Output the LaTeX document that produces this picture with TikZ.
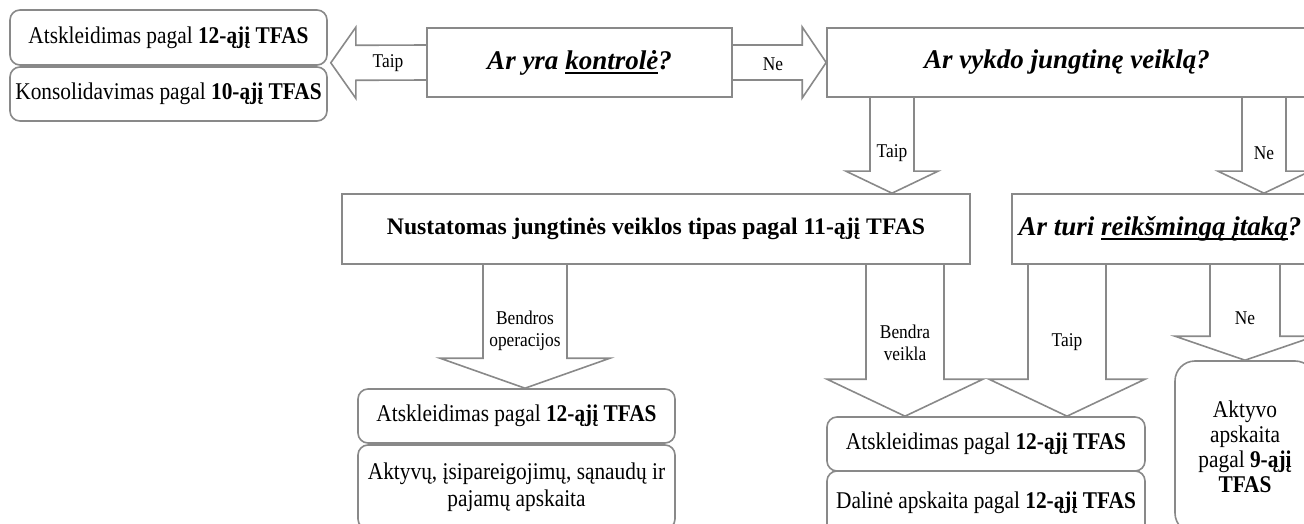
\documentclass[tikz,border=0pt]{standalone}
\usepackage{fontspec}
\setmainfont{Liberation Serif}
\newfontfamily\condserif[FakeStretch=0.89]{Liberation Serif}
\usetikzlibrary{calc}

\definecolor{edgegray}{RGB}{137,137,137}

% underline bar at a fixed depth below the baseline
\newcommand\ulbar[1]{\setbox0=\hbox{#1}\rlap{\rule[-4.5pt]{\wd0}{2pt}}\box0}
\newcommand\fs[2]{\fontsize{#1}{#2}\selectfont}

% block arrows: #1 start, #2 tip, #3 shaft half width, #4 head half width, #5 head length
\newcommand\downblock[5]{\draw[blockarrow] ($(#1)+(-#3,0)$) -- ($(#2)+(-#3,-#5)$) -- ($(#2)+(-#4,-#5)$) -- (#2) -- ($(#2)+(#4,-#5)$) -- ($(#2)+(#3,-#5)$) -- ($(#1)+(#3,0)$);}
\newcommand\rightblock[5]{\draw[blockarrow] ($(#1)+(0,-#3)$) -- ($(#2)+(-#5,-#3)$) -- ($(#2)+(-#5,-#4)$) -- (#2) -- ($(#2)+(-#5,#4)$) -- ($(#2)+(-#5,#3)$) -- ($(#1)+(0,#3)$);}
\newcommand\leftblock[5]{\draw[blockarrow] ($(#1)+(0,-#3)$) -- ($(#2)+(#5,-#3)$) -- ($(#2)+(#5,-#4)$) -- (#2) -- ($(#2)+(#5,#4)$) -- ($(#2)+(#5,#3)$) -- ($(#1)+(0,#3)$);}

\tikzset{
  box/.style={draw=edgegray, line width=1.6pt, inner sep=2pt, align=center, text=black},
  roundbox/.style={box, rounded corners=10pt},
  bodytext/.style={font=\condserif\fs{24}{26.5}},
  asktext/.style={font=\fs{27}{32}\bfseries\itshape},
  lbl/.style={font=\condserif\fs{19.5}{21.5}, align=center, inner sep=0pt},
  blockarrow/.style={draw=edgegray, line width=1.6pt, line join=miter},
}

\begin{document}
\begin{tikzpicture}[x=1pt, y=-1pt]
\useasboundingbox (0,0) rectangle (1304,524);
\clip (0,0) rectangle (1304,524);

% top row
\node[roundbox, bodytext, minimum width=317pt, minimum height=55pt] (tl1) at (168.5,37.5)
  {Atskleidimas pagal \textbf{12-ąjį TFAS}};
\node[roundbox, bodytext, minimum width=317pt, minimum height=54pt] (tl2) at (168.5,94)
  {Konsolidavimas pagal \textbf{10-ąjį TFAS}};
\node[box, asktext, minimum width=305pt, minimum height=69pt] (kontrole) at (579.5,62.5)
  {Ar yra \ulbar{kontrolė}?};
\node[box, asktext, minimum width=480pt, minimum height=69pt] (vykdo) at (1067,62.5)
  {Ar vykdo jungtinę veiklą?};

% middle row
\node[box, font=\fs{23.7}{28}\bfseries, minimum width=628pt, minimum height=70pt] (nust) at (656,229)
  {Nustatomas jungtinės veiklos tipas pagal 11-ąjį TFAS};
\node[box, asktext, minimum width=296pt, minimum height=70pt] (reik) at (1160,229)
  {Ar turi \ulbar{reikšmingą įtaką}?};

% bottom row
\node[roundbox, bodytext, minimum width=317pt, minimum height=54pt] (boxA) at (516.5,416)
  {Atskleidimas pagal \textbf{12-ąjį TFAS}};
\node[roundbox, bodytext, minimum width=317pt, minimum height=84pt] (boxB) at (516.5,487)
  {Aktyvų, įsipareigojimų, sąnaudų ir\\pajamų apskaita};
\node[roundbox, bodytext, minimum width=318pt, minimum height=54pt] (boxC) at (986,444)
  {Atskleidimas pagal \textbf{12-ąjį TFAS}};
\node[roundbox, bodytext, minimum width=318pt, minimum height=64pt] (boxD) at (986,503)
  {Dalinė apskaita pagal \textbf{12-ąjį TFAS}};
\node[box, rounded corners=20pt, bodytext, font=\condserif\fs{24}{25}, minimum width=140pt, minimum height=172pt] (aktyvo) at (1245,447)
  {Aktyvo\\apskaita\\pagal \textbf{9-ąjį}\\\textbf{TFAS}};

% connector end points
\coordinate (t1) at ($(tl1.south east)+(3,-3)$);
\coordinate (s3) at (892,0 |- vykdo.south);
\coordinate (t3) at (892,0 |- nust.north);
\coordinate (s4) at (1264,0 |- vykdo.south);
\coordinate (t4) at (1264,0 |- reik.north);
\coordinate (s5) at (525,0 |- nust.south);
\coordinate (t5) at (525,0 |- boxA.north);
\coordinate (s6) at (905,0 |- nust.south);
\coordinate (t6) at (905,0 |- boxC.north);
\coordinate (s7) at (1067,0 |- reik.south);
\coordinate (t7) at (1067,0 |- boxC.north);
\coordinate (s8) at (1245,0 |- reik.south);
\coordinate (t8) at (1245,0 |- aktyvo.north);

% block arrows
\leftblock{kontrole.west}{t1}{17.5}{35.5}{25}
\rightblock{kontrole.east}{vykdo.west}{17.5}{35.5}{24}
\downblock{s3}{t3}{22}{46}{22}
\downblock{s4}{t4}{22}{46}{22}
\downblock{s5}{t5}{42}{85}{30}
\downblock{s6}{t6}{39}{78}{37}
\downblock{s7}{t7}{39}{78}{37}
\downblock{s8}{t8}{35}{70}{24}

% arrow labels
\node[lbl] (l1) at (388,63) {Taip};
\node[lbl] (l2) at (773,64) {Ne};
\node[lbl] (l3) at (892,153) {Taip};
\node[lbl] (l4) at (1264,153) {Ne};
\node[lbl] (l5) at (525,331) {Bendros\\operacijos};
\node[lbl] (l6) at (905,343) {Bendra\\veikla};
\node[lbl] (l7) at (1067,342) {Taip};
\node[lbl] (l8) at (1245,318) {Ne};
\end{tikzpicture}
\end{document}
